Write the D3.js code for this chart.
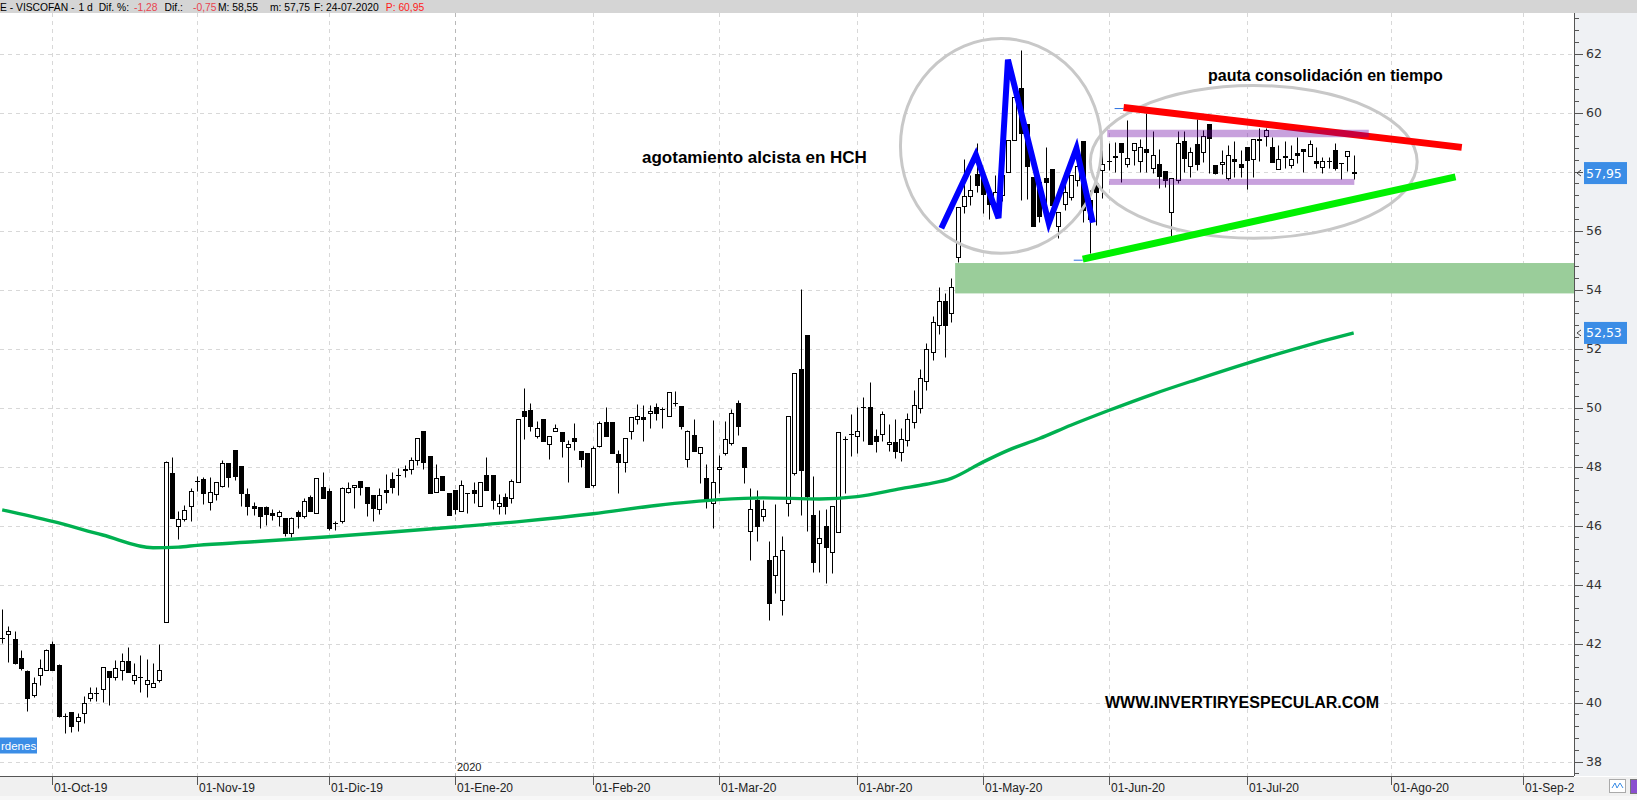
<!DOCTYPE html>
<html><head><meta charset="utf-8">
<script src="https://cdn.jsdelivr.net/npm/d3@7/dist/d3.min.js"></script>
<style>body{margin:0;background:#fff;overflow:hidden}svg{display:block}</style>
</head><body>
<svg id="c" width="1637" height="800"></svg>
<script>
// ---------------- DATA (daily candles, index 0 = 19-Sep-2019 ... 215 = 24-Jul-2020) -------------
const openP = [42.2,42.32,42.15,41.5,41.07,40.24,40.92,41.11,41.98,41.28,39.55,39.68,39.37,39.66,40.15,40.34,40.45,41.07,40.86,41.09,
41.41,40.77,40.86,40.62,40.52,40.75,42.72,47.78,45.97,46.22,46.65,47.52,47.58,46.81,47.06,47.35,48.11,48.57,48.02,47.06,
46.65,46.62,46.62,46.42,46.31,46.26,45.75,46.45,46.31,46.98,46.42,47.3,47.18,46.1,46.14,47.15,47.3,47.52,47.3,47.04,
46.55,47.21,47.58,47.71,47.91,47.91,48.23,49.21,48.36,47.15,47.69,47.1,47.21,46.51,47.1,47.21,46.65,47.72,47.72,46.65,
46.98,46.93,47.47,49.89,49.92,49.05,49.62,48.76,49.21,49.17,48.66,48.96,48.53,48.45,47.38,48.7,49.5,49.5,48.42,48.15,
49.21,49.61,49.67,49.81,50.01,49.94,49.7,50.15,50.06,48.25,49.07,48.45,47.61,46.78,47.91,48.45,48.79,50.15,48.66,45.8,
46.87,46.31,44.84,44.31,43.46,46.76,47.78,51.31,52.47,46.36,45.4,46.0,45.09,45.78,48.94,49.1,49.02,50.01,50.01,49.04,
49.1,48.76,48.83,48.5,48.9,49.5,50.0,50.9,51.9,52.8,53.6,53.2,55.12,56.84,57.17,57.91,57.78,57.3,56.7,57.2,
58.0,59.07,60.83,59.6,57.83,57.66,57.77,58.08,56.16,56.9,57.15,57.7,59.04,57.04,57.61,58.06,58.36,58.51,58.96,58.25,
58.74,58.36,58.76,58.12,58.26,58.02,56.62,57.72,59.02,58.2,58.94,58.66,59.62,58.21,58.26,57.78,58.42,58.25,58.82,58.42,
59.08,59.21,58.83,58.08,58.53,58.23,58.62,58.76,58.53,58.36,58.14,58.36,58.74,58.29,58.53,58.0];
const highP = [43.18,42.58,42.43,41.79,41.1,40.88,41.48,41.8,42.07,41.3,39.66,39.68,39.66,40.23,40.54,40.52,41.2,41.07,41.45,41.67,
41.88,41.33,41.62,41.48,41.33,41.99,48.2,48.32,46.5,46.7,47.27,47.67,47.63,47.66,47.46,48.23,48.11,48.57,48.02,47.27,
46.81,46.62,46.67,46.55,46.53,46.26,46.3,46.53,46.93,47.04,47.61,47.83,47.27,46.16,47.3,47.47,47.36,47.52,47.3,47.04,
47.27,47.74,47.83,47.95,48.06,48.31,48.96,49.21,48.36,48.09,47.69,47.1,47.21,47.55,47.12,47.49,47.47,48.32,47.72,47.06,
47.1,47.58,49.6,50.66,50.17,49.55,49.62,49.05,49.44,49.17,48.9,49.47,48.53,48.45,48.7,49.53,50.01,49.5,48.57,48.98,
49.67,50.11,50.09,50.09,50.15,50.03,50.52,50.57,50.06,49.24,49.62,48.66,48.1,49.58,48.4,49.55,49.94,50.26,48.66,47.27,
47.19,46.87,45.48,46.73,45.65,49.72,51.17,54.01,52.47,47.69,46.53,46.55,46.65,49.17,49.04,49.78,50.01,50.37,50.86,49.28,
49.87,49.44,49.61,49.3,49.8,50.6,51.3,52.2,53.1,54.1,53.9,54.4,56.81,58.42,57.89,58.96,57.78,57.5,57.9,58.3,
59.07,60.52,62.12,59.6,57.83,57.8,58.83,58.08,56.64,57.8,57.89,58.4,59.04,57.38,57.61,58.74,58.96,58.99,58.96,59.75,
58.96,59.11,59.98,59.36,58.76,58.02,57.77,59.38,59.36,58.85,59.78,59.41,59.62,58.21,58.74,58.91,59.02,58.74,58.82,59.1,
59.47,59.47,59.17,58.91,59.02,58.91,59.17,58.76,59.08,58.85,58.51,58.51,58.96,58.3,58.71,58.55];
const lowP = [42.01,41.39,41.32,41.11,39.73,40.18,40.58,41.09,41.1,39.5,38.98,39.0,39.02,39.3,40.06,40.06,40.03,39.92,40.75,40.75,
41.02,40.63,40.35,40.18,40.52,40.68,42.72,46.25,45.54,46.17,46.17,47.18,46.74,46.53,46.85,47.3,47.32,47.53,46.67,46.36,
46.36,45.91,46.02,46.19,45.99,45.65,45.6,45.91,46.25,46.48,46.42,46.95,45.86,45.86,46.08,47.12,46.59,47.04,46.33,46.17,
46.39,46.76,47.1,47.04,47.66,47.75,48.06,47.91,47.1,47.15,47.2,46.36,46.4,46.51,46.44,46.78,46.65,47.21,46.57,46.4,
46.4,46.78,47.47,48.94,49.22,48.98,48.88,48.26,49.21,48.34,47.49,48.57,48.0,47.32,47.32,48.66,49.05,48.45,47.1,47.83,
48.94,49.45,48.88,49.3,49.58,49.32,49.7,50.06,49.28,48.0,48.54,47.44,46.59,45.91,47.1,48.4,48.74,49.07,47.44,44.84,
45.49,46.14,42.8,43.73,42.97,46.34,47.72,46.36,45.8,44.44,44.44,44.05,44.39,45.78,47.1,48.37,48.45,48.85,48.76,48.48,
48.85,48.54,48.28,48.2,48.7,49.3,49.8,50.6,51.6,52.5,51.7,52.9,54.95,56.59,56.87,57.32,56.59,56.4,56.5,57.0,
58.0,59.07,57.04,57.06,56.14,56.3,56.3,56.87,55.74,56.7,57.04,57.5,56.3,55.23,56.19,57.1,58.04,58.0,57.63,58.17,
58.23,58.0,58.0,57.94,57.44,57.47,55.82,57.61,58.0,57.83,58.06,58.31,57.94,57.92,57.92,57.7,57.83,57.83,57.4,57.83,
58.36,58.87,58.34,58.08,58.12,58.12,58.28,58.0,58.53,58.12,57.94,58.12,58.06,57.74,58.02,57.75];
const closeP = [42.18,42.43,41.33,41.18,40.15,40.66,41.16,41.79,41.12,39.53,39.53,39.22,39.5,39.98,40.32,40.34,41.2,40.86,41.16,41.41,
41.02,40.93,40.86,40.77,40.65,41.11,48.15,46.25,46.22,46.53,47.16,47.52,47.12,47.15,47.46,48.11,47.63,47.68,47.1,46.65,
46.6,46.34,46.39,46.36,46.45,45.75,46.25,46.34,46.84,46.48,47.61,46.95,45.93,46.1,47.27,47.27,47.36,47.3,46.78,46.58,
47.02,47.15,47.3,47.71,47.87,48.23,48.96,48.14,47.12,47.61,47.21,46.36,46.57,47.36,47.1,47.12,47.47,47.21,46.85,46.76,
46.68,47.52,49.6,49.73,49.39,49.3,48.88,49.05,49.3,48.88,48.76,48.88,48.26,47.32,48.62,49.49,49.05,48.45,48.15,48.96,
49.67,49.72,49.61,49.89,49.83,49.94,50.52,50.15,49.39,49.19,48.54,48.66,46.9,47.49,48.0,48.93,49.81,49.39,48.0,46.55,
46.0,46.55,43.39,44.97,45.18,49.72,51.17,47.89,46.99,44.75,45.57,45.29,46.65,49.17,48.95,49.1,49.19,50.01,48.76,48.85,
49.78,48.83,48.54,48.95,49.6,50.1,51.0,52.0,52.9,53.6,52.8,54.1,56.81,57.17,57.36,57.53,57.23,56.9,57.3,57.9,
59.07,60.52,59.32,58.19,56.14,56.48,57.64,56.87,56.64,57.3,57.89,58.2,56.7,56.4,57.32,58.25,58.37,58.52,58.65,58.45,
58.96,58.85,58.68,58.57,57.85,57.72,57.77,58.96,58.45,58.66,58.25,59.19,59.13,57.94,58.32,58.57,58.36,58.14,58.4,59.1,
59.1,59.41,58.34,58.42,58.48,58.42,58.57,58.7,58.93,58.28,58.36,58.37,58.12,58.28,58.71,57.95];

// moving average (read at sampled sessions)
const maIdx = [0,8,16,24,28,31,40,52,62,72,83,94,104,114,121,130,136,143,147,151,156,160,165,170,176,183,190,198,205,210,215];
const maVal = [46.53,46.14,45.68,45.25,45.27,45.33,45.45,45.62,45.78,45.95,46.15,46.4,46.68,46.88,46.94,46.9,46.98,47.25,47.4,47.6,48.15,48.55,48.95,49.4,49.9,50.45,50.95,51.5,51.95,52.25,52.53];

// axis labels
const monthLabels = ["01-Oct-19","01-Nov-19","01-Dic-19","01-Ene-20","01-Feb-20","01-Mar-20","01-Abr-20","01-May-20","01-Jun-20","01-Jul-20","01-Ago-20","01-Sep-20"];
const monthIdx = [8,31,52,72,94,114,136,156,176,198,221,242];
const yearIdx = 72, yearLabel = "2020";
const yTicks = [38,40,42,44,46,48,50,52,54,56,58,60,62];

// annotations (session index, price)
const hchIdx = [149.4,154.9,158.5,160.0,166.5,170.9,173.5];
const hchVal = [56.08,58.57,56.42,61.79,56.25,58.79,56.27];
const redIdx = [178.4,232.2], redVal = [60.17,58.82];
const greenIdx = [171.9,231.2], greenVal = [55.03,57.82];
const bandFrom = [175.8,176.1], bandTo = [217.4,215.1], bandLevel = [59.29,57.65];
const zoneFrom = 151.6, zoneTop = 54.9, zoneBottom = 53.87;
const ellCx = [158.9,199.1], ellCy = [58.87,58.33], ellRx = [16.0,26.0], ellRy = [3.64,2.59];
const lastClose = 57.95, lastMA = 52.53;
const tagTexts = ["57,95","52,53"];

// ---------------- CHART -------------
const svg = d3.select("#c");
const W = 1637, H = 800;
const L = 0, R = 1574, T = 13, B = 776;
const x = d3.scaleLinear().domain([-0.35, 250.05]).range([L, R]);
const y = d3.scaleLinear().domain([37.51, 63.41]).range([B, 12]);
const px = v => Math.round(x(v)) + 0.5;
const py = v => Math.round(y(v)) + 0.5;

svg.append("rect").attr("width", W).attr("height", H).attr("fill", "#fff");
const defs = svg.append("defs");
defs.append("clipPath").attr("id","plot")
  .append("rect").attr("x",L).attr("y",T).attr("width",R-L).attr("height",B-T);

const g = svg.append("g").attr("clip-path","url(#plot)");

// gridlines
g.selectAll(".hg").data(yTicks).join("line")
  .attr("x1",L).attr("x2",R).attr("y1",d=>py(d)).attr("y2",d=>py(d))
  .attr("stroke","#d8d8d8").attr("stroke-dasharray","4,4");
g.selectAll(".vg").data(monthIdx).join("line")
  .attr("x1",d=>px(d)).attr("x2",d=>px(d)).attr("y1",T).attr("y2",B)
  .attr("stroke",d=>d===yearIdx?"#b8b8b8":"#d8d8d8").attr("stroke-dasharray","4,4");

// green support zone
g.append("rect").attr("x",x(zoneFrom)).attr("y",y(zoneTop)).attr("width",R-x(zoneFrom))
  .attr("height",y(zoneBottom)-y(zoneTop)).attr("fill","#9acd9a");

// candles
const idx = d3.range(openP.length);
const cg = g.append("g");
idx.forEach(i=>{
  const cx = px(i);
  cg.append("line").attr("x1",cx).attr("x2",cx).attr("y1",py(highP[i])).attr("y2",py(lowP[i]))
    .attr("stroke","#000").attr("stroke-width",1);
  const yt = py(Math.max(openP[i],closeP[i])), yb = py(Math.min(openP[i],closeP[i]));
  if (yb - yt < 1) {
    cg.append("line").attr("x1",cx-2.5).attr("x2",cx+2.5).attr("y1",yt).attr("y2",yt)
      .attr("stroke","#000").attr("stroke-width",1);
  } else {
    cg.append("rect").attr("x",cx-2).attr("y",yt).attr("width",4).attr("height",yb-yt)
      .attr("fill",closeP[i]<openP[i]?"#000":"#fff").attr("stroke","#000").attr("stroke-width",1);
  }
});

// moving average
g.append("path").datum(maIdx.map((d,i)=>[d,maVal[i]]))
  .attr("d",d3.line().x(d=>x(d[0])).y(d=>y(d[1])).curve(d3.curveMonotoneX))
  .attr("fill","none").attr("stroke","#00b050").attr("stroke-width",3.4);

// ellipses
ellCx.forEach((c,i)=>{
  g.append("ellipse").attr("cx",x(c)).attr("cy",y(ellCy[i]))
    .attr("rx",x(c+ellRx[i])-x(c)).attr("ry",y(ellCy[i]-ellRy[i])-y(ellCy[i]))
    .attr("fill","none").attr("stroke","#c8c8c8").attr("stroke-width",3);
});

// HCH zigzag
g.append("path").datum(hchIdx.map((d,i)=>[d,hchVal[i]]))
  .attr("d",d3.line().x(d=>x(d[0])).y(d=>y(d[1])))
  .attr("fill","none").attr("stroke","#0000ff").attr("stroke-width",6).attr("stroke-linejoin","miter");

// trend lines with small blue start ticks
function trend(ix, iv, col){
  g.append("line").attr("x1",x(ix[0])-9).attr("x2",x(ix[0])).attr("y1",y(iv[0])+1).attr("y2",y(iv[0])+1)
    .attr("stroke","#2a6fe0").attr("stroke-width",1);
  g.append("line").attr("x1",x(ix[0])).attr("x2",x(ix[1])).attr("y1",y(iv[0])).attr("y2",y(iv[1]))
    .attr("stroke",col).attr("stroke-width",7);
}
trend(redIdx, redVal, "#ff0000");
trend(greenIdx, greenVal, "#00f000");

// purple consolidation bands
bandLevel.forEach((lv,i)=>{
  g.append("rect").attr("x",x(bandFrom[i])).attr("width",x(bandTo[i])-x(bandFrom[i]))
    .attr("y",y(lv)-(i===0?3.8:3)).attr("height",i===0?7.5:6)
    .attr("fill","#6a00a2").attr("fill-opacity",0.37);
});

// annotation texts
const txt = svg.append("g").attr("font-family","'Liberation Sans', Arial, sans-serif").attr("font-weight","bold").attr("fill","#000");
txt.append("text").attr("x",1208).attr("y",81).attr("font-size",16).text("pauta consolidación en tiempo");
txt.append("text").attr("x",642).attr("y",163).attr("font-size",17).text("agotamiento alcista en HCH");
txt.append("text").attr("x",1105).attr("y",708).attr("font-size",16).text("WWW.INVERTIRYESPECULAR.COM");

// right panel
svg.append("rect").attr("x",R+1).attr("y",T).attr("width",W-R-1).attr("height",B-T).attr("fill","#eff1f4");
svg.append("line").attr("x1",R+0.5).attr("x2",R+0.5).attr("y1",T).attr("y2",B).attr("stroke","#555");
const minor = d3.range(37.6, 63.3, 0.4).filter(v=>Math.abs(v-Math.round(v/2)*2)>0.05);
svg.selectAll(".mt").data(minor).join("line")
  .attr("x1",R+1).attr("x2",R+5).attr("y1",d=>py(d)).attr("y2",d=>py(d)).attr("stroke","#555");
svg.selectAll(".Mt").data(yTicks).join("line")
  .attr("x1",R+1).attr("x2",R+9).attr("y1",d=>py(d)).attr("y2",d=>py(d)).attr("stroke","#555");
// labels fully hidden behind a price tag are not shown (as in the reference)
const tagVals = [lastClose, lastMA];
const shownTicks = yTicks.filter(t => !tagVals.some(v => Math.abs(y(t) - y(v)) < 5));
svg.selectAll(".yl").data(shownTicks).join("text")
  .attr("x",R+12).attr("y",d=>y(d)+4.5).attr("font-family","'DejaVu Sans', sans-serif").attr("font-size",12.5)
  .attr("fill","#333").text(d=>d);

// price tags
tagVals.forEach((v,i)=>{
  svg.append("path").attr("d",`M${R+7},${y(v)-3} L${R+3},${y(v)} L${R+7},${y(v)+3}`).attr("fill","none").attr("stroke","#444");
  svg.append("rect").attr("x",R+10).attr("y",y(v)-11).attr("width",43).attr("height",22).attr("fill","#3b8de6");
  svg.append("text").attr("x",R+12).attr("y",y(v)+4.5).attr("font-family","'DejaVu Sans', sans-serif")
    .attr("font-size",12.5).attr("fill","#fff").text(tagTexts[i]);
});

// bottom axis
svg.append("rect").attr("x",0).attr("y",B+1).attr("width",W).attr("height",H-B-1).attr("fill","#f0f0f0");
svg.append("rect").attr("x",0).attr("y",796).attr("width",W).attr("height",4).attr("fill","#f7f7f7");
svg.append("line").attr("x1",0).attr("x2",R).attr("y1",B+0.5).attr("y2",B+0.5).attr("stroke","#555");
defs.append("clipPath").attr("id","xax").append("rect").attr("x",0).attr("y",B).attr("width",R).attr("height",H-B);
const xa = svg.append("g").attr("clip-path","url(#xax)");
xa.selectAll("line").data(monthIdx).join("line")
  .attr("x1",d=>px(d)).attr("x2",d=>px(d)).attr("y1",B).attr("y2",B+9).attr("stroke","#555");
xa.selectAll("text").data(monthLabels).join("text")
  .attr("x",(d,i)=>px(monthIdx[i])+1.5).attr("y",792).attr("font-family","'Liberation Sans', Arial, sans-serif")
  .attr("font-size",12).attr("fill","#222").text(d=>d);
svg.append("text").attr("x",px(yearIdx)+1.5).attr("y",771).attr("font-family","'Liberation Sans', Arial, sans-serif")
  .attr("font-size",11).attr("fill","#222").text(yearLabel);

// bottom-left label
svg.append("rect").attr("x",0).attr("y",737.5).attr("width",37).attr("height",16).attr("fill","#3b8de6");
svg.append("text").attr("x",1).attr("y",750).attr("font-family","'Liberation Sans', Arial, sans-serif").attr("font-size",11.5).attr("fill","#fff").text("rdenes");

// bottom-right icons
svg.append("rect").attr("x",1609.5).attr("y",779.5).attr("width",16).attr("height",13).attr("fill","#fff").attr("stroke","#aaa");
svg.append("path").attr("d","M1612,788 L1615,783 L1617,788 L1620,783 L1623,788").attr("fill","none").attr("stroke","#3b8de6");
svg.append("rect").attr("x",1630.5).attr("y",779.5).attr("width",7).attr("height",14).attr("fill","#8a4fd0").attr("stroke","#777");

// header
svg.append("rect").attr("x",0).attr("y",0).attr("width",W).attr("height",T).attr("fill","#d5d5d5");
const hdr = [[0,"E - VISCOFAN -","#000"],[78.5,"1 d","#000"],[98.7,"Dif. %:","#000"],[134,"-1,28","#e8434f"],
  [164.6,"Dif.:","#000"],[193,"-0,75","#e8434f"],[218,"M: 58,55","#000"],[270,"m: 57,75","#000"],
  [314,"F: 24-07-2020","#000"],[385.8,"P: 60,95","#ff1a1a"]];
svg.selectAll(".hd").data(hdr).join("text").attr("x",d=>d[0]).attr("y",10.5)
  .attr("font-family","'Liberation Sans', Arial, sans-serif").attr("font-size",10.3).attr("fill",d=>d[2]).text(d=>d[1]);
</script>
</body></html>
